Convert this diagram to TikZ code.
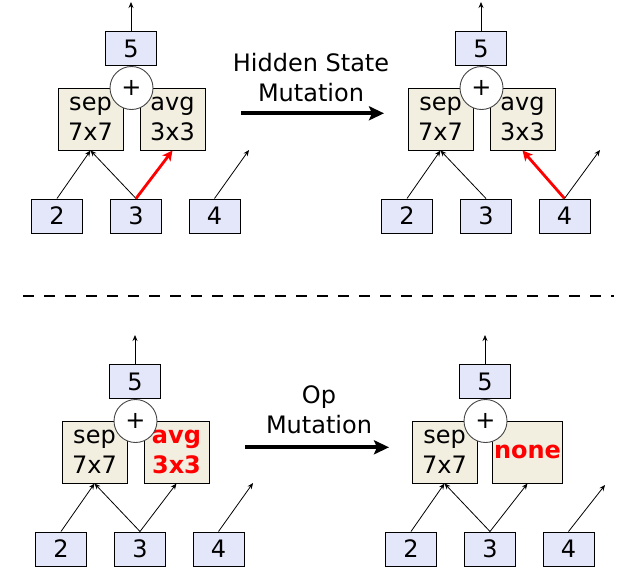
\documentclass[tikz,border=0pt]{standalone}
\usepackage{fontspec}
\setmainfont{DejaVu Sans}
\usetikzlibrary{arrows.meta}
\definecolor{stateblue}{RGB}{228,230,250}
\definecolor{opbeige}{RGB}{242,238,224}
\definecolor{ringgray}{RGB}{70,70,70}

\tikzset{
  every node/.style={font=\fontsize{24pt}{30pt}\selectfont, inner sep=0pt},
  statebox/.style={draw=black, line width=1pt, fill=stateblue,
    minimum width=51pt, minimum height=34pt},
  opbox/.style={draw=black, line width=1pt, fill=opbeige,
    minimum width=65pt, minimum height=62pt, align=center},
  addnode/.style={circle, draw=ringgray, line width=0.9pt, fill=white,
    minimum size=43pt},
  link/.style={line width=0.8pt, -{Stealth[length=6pt,width=5pt]}},
  redlink/.style={red, line width=2.8pt,
    -{Stealth[length=10pt,width=10pt,inset=2.5pt]}},
  mutarrow/.style={line width=4pt,
    -{Stealth[length=15pt,width=14pt,inset=3pt]}},
  hot/.style={text=red, font=\fontsize{24pt}{30pt}\selectfont\bfseries},
}

\begin{document}
\begin{tikzpicture}[x=1pt,y=-1pt]
\useasboundingbox (0,0) rectangle (620,573);

% ---- cell before the hidden state mutation ----
\begin{scope}
  \node[statebox] (a5) at (131,48.5) {5};
  \node[opbox] (asep) at (90.5,119) {sep\\7x7};
  \node[opbox] (aavg) at (172.5,119) {avg\\3x3};
  \node[addnode] (aadd) at (131.5,88) {+};
  \node[statebox] (a2) at (57,216) {2};
  \node[statebox] (a3) at (136,216) {3};
  \node[statebox] (a4) at (214.5,216) {4};
  \coordinate (aout) at (131,2);
  \coordinate (afree) at (249,150);
  \draw[link] (a5.north) -- (aout);
  \draw[link] (a2.north) -- (asep.south);
  \draw[link] (a3.north) -- (asep.south);
  \draw[redlink] (a3.north) -- (aavg.south);
  \draw[link] (a4.north) -- (afree);
\end{scope}

% ---- cell after the hidden state mutation ----
\begin{scope}[shift={(350,0)}]
  \node[statebox] (b5) at (131,48.5) {5};
  \node[opbox] (bsep) at (90.5,119) {sep\\7x7};
  \node[opbox] (bavg) at (172.5,119) {avg\\3x3};
  \node[addnode] (badd) at (131.5,88) {+};
  \node[statebox] (b2) at (57,216) {2};
  \node[statebox] (b3) at (136,216) {3};
  \node[statebox] (b4) at (214.5,216) {4};
  \coordinate (bout) at (131,2);
  \coordinate (bfree) at (250,150);
  \draw[link] (b5.north) -- (bout);
  \draw[link] (b2.north) -- (bsep.south);
  \draw[link] (b3.north) -- (bsep.south);
  \draw[redlink] (b4.north) -- (bavg.south);
  \draw[link] (b4.north) -- (bfree);
\end{scope}

% ---- cell before the op mutation ----
\begin{scope}[shift={(4,333)}]
  \node[statebox] (c5) at (131,48.5) {5};
  \node[opbox] (csep) at (90.5,119) {sep\\7x7};
  \node[opbox, hot] (cavg) at (172.5,119) {avg\\3x3};
  \node[addnode] (cadd) at (131.5,88) {+};
  \node[statebox] (c2) at (57,216) {2};
  \node[statebox] (c3) at (136,216) {3};
  \node[statebox] (c4) at (214.5,216) {4};
  \coordinate (cout) at (131,2);
  \coordinate (cfree) at (249,150);
  \draw[link] (c5.north) -- (cout);
  \draw[link] (c2.north) -- (csep.south);
  \draw[link] (c3.north) -- (csep.south);
  \draw[link] (c3.north) -- (cavg.south);
  \draw[link] (c4.north) -- (cfree);
\end{scope}

% ---- cell after the op mutation ----
\begin{scope}[shift={(354,333)}]
  \node[statebox] (d5) at (131,48.5) {5};
  \node[opbox] (dsep) at (90.5,119) {sep\\7x7};
  \node[opbox, hot, minimum width=70pt] (dnone) at (173.5,119) {none};
  \node[addnode] (dadd) at (131.5,88) {+};
  \node[statebox] (d2) at (57,216) {2};
  \node[statebox] (d3) at (136,216) {3};
  \node[statebox] (d4) at (214.5,216) {4};
  \coordinate (dout) at (131,2);
  \coordinate (dfree) at (251,152);
  \draw[link] (d5.north) -- (dout);
  \draw[link] (d2.north) -- (dsep.south);
  \draw[link] (d3.north) -- (dsep.south);
  \draw[link] (d3.north) -- (dnone.south);
  \draw[link] (d4.north) -- (dfree);
\end{scope}

% ---- mutation labels and arrows ----
\node[align=center] (hsm) at (311,78) {Hidden State\\Mutation};
\coordinate (hsA) at (241,113.3);
\coordinate (hsB) at (384,113.3);
\draw[mutarrow] (hsA) -- (hsB);

\node[align=center] (opm) at (319,409.5) {Op\\Mutation};
\coordinate (opA) at (245,447.3);
\coordinate (opB) at (389,447.3);
\draw[mutarrow] (opA) -- (opB);

% ---- separator ----
\coordinate (sepL) at (23,296);
\coordinate (sepR) at (614,296);
\draw[line width=1.3pt, dash pattern=on 11pt off 10pt] (sepL) -- (sepR);
\end{tikzpicture}
\end{document}
